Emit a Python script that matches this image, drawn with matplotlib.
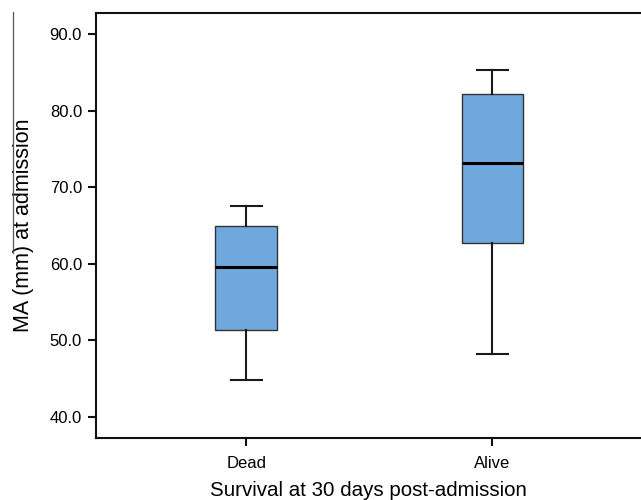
import matplotlib
matplotlib.use("Agg")
import matplotlib.pyplot as plt
from matplotlib.ticker import FormatStrFormatter
from matplotlib.lines import Line2D

categories = ["Dead", "Alive"]
whisker_low = [44.8, 48.2]
q1 = [51.4, 62.7]
median = [59.6, 73.1]
q3 = [65.0, 82.2]
whisker_high = [67.6, 85.3]
yticks = [40.0, 50.0, 60.0, 70.0, 80.0, 90.0]

plt.rcParams['font.family'] = ['Liberation Sans', 'DejaVu Sans']

fig = plt.figure(figsize=(6.41, 5.0), dpi=100)
ax = fig.add_axes([96/641, 62/500, (640-96)/641, (438-13)/500])

stats = []
for i, c in enumerate(categories):
    stats.append(dict(label=c, whislo=whisker_low[i], q1=q1[i], med=median[i],
                      q3=q3[i], whishi=whisker_high[i], fliers=[]))

ax.bxp(stats, positions=[0, 1], widths=0.25, patch_artist=True, showfliers=False,
       boxprops=dict(facecolor='#6fa8dc', edgecolor='#333333', linewidth=1.0),
       medianprops=dict(color='black', linewidth=2.2),
       whiskerprops=dict(color='#1a1a1a', linewidth=1.5),
       capprops=dict(color='#1a1a1a', linewidth=1.5),
       capwidths=0.125)

ax.set_xlim(-0.61, 1.6)
ax.set_ylim(37.26, 92.74)
ax.set_yticks(yticks)
ax.yaxis.set_major_formatter(FormatStrFormatter('%.1f'))
ax.set_xticks([0, 1])
ax.set_xticklabels(categories)

ax.spines['right'].set_visible(False)
for s in ['left', 'top', 'bottom']:
    ax.spines[s].set_linewidth(1.5)
    ax.spines[s].set_color('#111111')

ax.tick_params(axis='y', direction='out', length=6, width=1.5, color='#111111',
               labelsize=12, pad=4)
ax.tick_params(axis='x', direction='out', length=6, width=1.5, color='#111111',
               labelsize=12, pad=7)
ax.set_xlabel('Survival at 30 days post-admission', fontsize=14.8, labelpad=7)
ax.set_ylabel('MA (mm) at admission', fontsize=15.5, labelpad=11)

fig.add_artist(Line2D([13/641, 13/641], [1-12/500, 1-253/500],
                      transform=fig.transFigure, color='#555555', linewidth=0.9))

fig.savefig('out.png', dpi=100)
